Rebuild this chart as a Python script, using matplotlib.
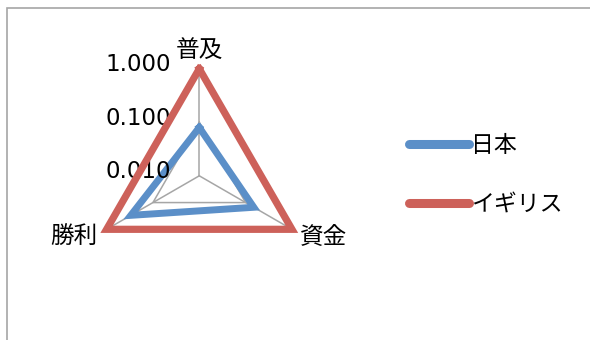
import numpy as np
import matplotlib
matplotlib.use("Agg")
import matplotlib.pyplot as plt
from matplotlib.patches import Rectangle

plt.rcParams['font.family'] = ['DejaVu Sans', 'Noto Sans CJK JP']

# data
categories = ['普及', '資金', '勝利']
japan = [0.08, 0.15, 0.30]
britain = [1.0, 1.0, 1.0]
series_names = ['日本', 'イギリス']
tick_values = [0.01, 0.1, 1.0]
tick_labels = ['0.010', '0.100', '1.000']

BLUE = '#5b8fc8'
RED = '#cd615a'
GRID = '#a6a6a6'

fig = plt.figure(figsize=(5.9, 3.4), dpi=100)
fig.patches.append(Rectangle((7 / 590, -0.1), 1.2, 1 - 8 / 340 + 0.1,
                             transform=fig.transFigure, fill=False,
                             edgecolor='#a6a6a6', linewidth=1.2))

ax = fig.add_axes([0.1564, 0.1682, 0.3627, 0.6294], projection='polar')
ax.set_theta_zero_location('N')
ax.set_theta_direction(-1)
ax.set_rscale('log')
ax.set_rlim(tick_values[0], tick_values[-1])
ax.grid(False)
ax.set_xticks([])
ax.set_yticks([])
ax.spines['polar'].set_visible(False)
ax.patch.set_visible(False)

angles = np.deg2rad([0, 120, 240])
closed = np.append(angles, angles[0])

# spokes and polygon gridlines
for a in angles:
    ax.plot([a, a], [tick_values[0], tick_values[-1]], color=GRID, lw=1.1, clip_on=False, zorder=1)
for v in tick_values[1:]:
    ax.plot(closed, [v] * 4, color=GRID, lw=1.1, clip_on=False, zorder=1)

def close(vals):
    return list(vals) + [vals[0]]

ax.plot(closed, close(japan), color=BLUE, lw=5, solid_joinstyle='miter',
        clip_on=False, zorder=3, label=series_names[0])
ax.plot(closed, close(britain), color=RED, lw=5.2, solid_joinstyle='miter',
        clip_on=False, zorder=4, label=series_names[1])

# radial tick labels
for v, t in zip(tick_values, tick_labels):
    ax.annotate(t, xy=(0, v), xytext=(-28, 4), textcoords='offset pixels',
                ha='right', va='center', fontsize=16.5, annotation_clip=False)

# category labels
label_offsets = [(0, 19, 'center'), (8, -7, 'left'), (-9, -7, 'right')]
for a, c, (dx, dy, ha) in zip(angles, categories, label_offsets):
    ax.annotate(c, xy=(a, tick_values[-1]), xytext=(dx, dy), textcoords='offset pixels',
                ha=ha, va='center', fontsize=17, annotation_clip=False)

leg = fig.legend(loc='center left', bbox_to_anchor=(400 / 590, 1 - 175 / 340),
                 frameon=False, fontsize=16.5, handlelength=2.6, handletextpad=0.1,
                 labelspacing=1.55, borderaxespad=0)
for h in leg.get_lines():
    h.set_linewidth(6.5)
    h.set_solid_capstyle('round')

fig.savefig('out.png', dpi=100)
